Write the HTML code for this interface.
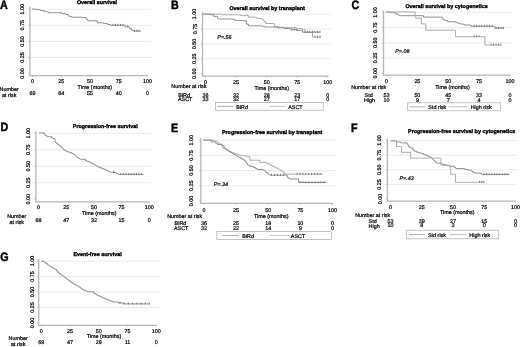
<!DOCTYPE html>
<html><head><meta charset="utf-8"><style>
html,body{margin:0;padding:0;background:#fff;}
svg{display:block;}
text{font-family:"Liberation Sans",sans-serif;text-rendering:geometricPrecision;stroke:#000;stroke-width:0.22px;}
text[font-weight="bold"]{stroke-width:0.35px;}
text.L{stroke-width:0.45px;fill:#000;}
</style></head><body>
<svg width="520" height="347" viewBox="0 0 520 347">
<rect width="520" height="347" fill="#fff"/>
<g style="filter:grayscale(1)">
<line x1="29.90" y1="9.20" x2="151.50" y2="9.20" stroke="#ebebeb" stroke-width="1"/>
<line x1="29.90" y1="25.30" x2="151.50" y2="25.30" stroke="#ebebeb" stroke-width="1"/>
<line x1="29.90" y1="41.40" x2="151.50" y2="41.40" stroke="#ebebeb" stroke-width="1"/>
<line x1="29.90" y1="57.50" x2="151.50" y2="57.50" stroke="#ebebeb" stroke-width="1"/>
<line x1="29.90" y1="6.80" x2="29.90" y2="76.20" stroke="#b5b5b5" stroke-width="1.3"/>
<line x1="29.30" y1="75.60" x2="148.10" y2="75.60" stroke="#b5b5b5" stroke-width="1.3"/>
<line x1="28.30" y1="9.20" x2="29.90" y2="9.20" stroke="#b5b5b5" stroke-width="0.8"/>
<line x1="28.30" y1="25.30" x2="29.90" y2="25.30" stroke="#b5b5b5" stroke-width="0.8"/>
<line x1="28.30" y1="41.40" x2="29.90" y2="41.40" stroke="#b5b5b5" stroke-width="0.8"/>
<line x1="28.30" y1="57.50" x2="29.90" y2="57.50" stroke="#b5b5b5" stroke-width="0.8"/>
<line x1="28.30" y1="73.60" x2="29.90" y2="73.60" stroke="#b5b5b5" stroke-width="0.8"/>
<line x1="32.60" y1="75.60" x2="32.60" y2="77.10" stroke="#b5b5b5" stroke-width="0.8"/>
<line x1="61.35" y1="75.60" x2="61.35" y2="77.10" stroke="#b5b5b5" stroke-width="0.8"/>
<line x1="90.10" y1="75.60" x2="90.10" y2="77.10" stroke="#b5b5b5" stroke-width="0.8"/>
<line x1="118.85" y1="75.60" x2="118.85" y2="77.10" stroke="#b5b5b5" stroke-width="0.8"/>
<line x1="147.60" y1="75.60" x2="147.60" y2="77.10" stroke="#b5b5b5" stroke-width="0.8"/>
<text x="24.20" y="9.20" font-size="5.4" text-anchor="middle" transform="rotate(-90 24.20 9.20)">1.00</text>
<text x="24.20" y="25.30" font-size="5.4" text-anchor="middle" transform="rotate(-90 24.20 25.30)">0.75</text>
<text x="24.20" y="41.40" font-size="5.4" text-anchor="middle" transform="rotate(-90 24.20 41.40)">0.50</text>
<text x="24.20" y="57.50" font-size="5.4" text-anchor="middle" transform="rotate(-90 24.20 57.50)">0.25</text>
<text x="24.20" y="73.60" font-size="5.4" text-anchor="middle" transform="rotate(-90 24.20 73.60)">0.00</text>
<text x="32.60" y="82.80" font-size="5.4" text-anchor="middle">0</text>
<text x="61.35" y="82.80" font-size="5.4" text-anchor="middle">25</text>
<text x="90.10" y="82.80" font-size="5.4" text-anchor="middle">50</text>
<text x="118.85" y="82.80" font-size="5.4" text-anchor="middle">75</text>
<text x="147.60" y="82.80" font-size="5.4" text-anchor="middle">100</text>
<text x="77.60" y="89.00" font-size="5.4">Time (months)</text>
<text x="76.90" y="4.35" font-size="5.4" font-weight="bold">Overall survival</text>
<text transform="translate(0.00 9.00) scale(0.88 1)" font-size="12.2" font-weight="bold" class="L">A</text>
<text x="9.20" y="90.80" font-size="5.4" text-anchor="middle">Number</text>
<text x="9.20" y="96.80" font-size="5.4" text-anchor="middle">at risk</text>
<text x="32.60" y="94.80" font-size="5.4" text-anchor="middle">69</text>
<text x="61.35" y="94.80" font-size="5.4" text-anchor="middle">64</text>
<text x="90.10" y="94.80" font-size="5.4" text-anchor="middle">55</text>
<text x="118.85" y="94.80" font-size="5.4" text-anchor="middle">40</text>
<text x="147.60" y="94.80" font-size="5.4" text-anchor="middle">0</text>
<polyline points="32.00,9.10 36.10,9.10 36.10,9.65 40.10,9.65 40.10,10.50 44.20,10.50 44.20,11.70 48.20,11.70 48.20,12.70 57.60,12.70 57.60,12.70 61.60,12.70 61.60,13.70 65.70,13.70 65.70,14.50 68.40,14.50 68.40,15.80 69.40,15.80 69.40,16.50 71.40,16.50 71.40,17.20 72.40,17.20 81.80,17.20 81.80,17.50 85.90,17.50 85.90,18.10 86.58,18.10 86.58,19.45 87.92,19.45 87.92,20.80 88.60,20.80 96.10,20.80 96.10,21.00 97.40,21.00 97.40,22.80 103.50,22.80 103.50,23.50 107.50,23.50 107.50,24.50 110.20,24.50 110.20,25.30 124.50,25.30 124.50,25.30 125.00,25.30 125.00,26.80 129.20,26.80 129.20,26.80 129.70,26.80 129.70,28.60 131.50,28.60 131.50,30.00 132.80,30.00 132.80,31.10 141.10,31.10 141.10,31.10" fill="none" stroke="#8f8f8f" stroke-width="1.0"/>
<line x1="113.00" y1="23.90" x2="113.00" y2="25.80" stroke="#707070" stroke-width="0.9"/>
<line x1="115.50" y1="23.90" x2="115.50" y2="25.80" stroke="#707070" stroke-width="0.9"/>
<line x1="118.00" y1="23.90" x2="118.00" y2="25.80" stroke="#707070" stroke-width="0.9"/>
<line x1="120.50" y1="23.90" x2="120.50" y2="25.80" stroke="#707070" stroke-width="0.9"/>
<line x1="123.00" y1="23.90" x2="123.00" y2="25.80" stroke="#707070" stroke-width="0.9"/>
<line x1="127.70" y1="25.40" x2="127.70" y2="27.30" stroke="#707070" stroke-width="0.9"/>
<line x1="134.50" y1="29.70" x2="134.50" y2="31.60" stroke="#707070" stroke-width="0.9"/>
<line x1="136.70" y1="29.70" x2="136.70" y2="31.60" stroke="#707070" stroke-width="0.9"/>
<line x1="138.90" y1="29.70" x2="138.90" y2="31.60" stroke="#707070" stroke-width="0.9"/>
<line x1="202.50" y1="14.10" x2="331.00" y2="14.10" stroke="#ebebeb" stroke-width="1"/>
<line x1="202.50" y1="29.00" x2="331.00" y2="29.00" stroke="#ebebeb" stroke-width="1"/>
<line x1="202.50" y1="43.90" x2="331.00" y2="43.90" stroke="#ebebeb" stroke-width="1"/>
<line x1="202.50" y1="58.80" x2="331.00" y2="58.80" stroke="#ebebeb" stroke-width="1"/>
<line x1="202.50" y1="12.00" x2="202.50" y2="76.80" stroke="#b5b5b5" stroke-width="1.3"/>
<line x1="201.90" y1="76.20" x2="328.30" y2="76.20" stroke="#b5b5b5" stroke-width="1.3"/>
<line x1="200.90" y1="14.10" x2="202.50" y2="14.10" stroke="#b5b5b5" stroke-width="0.8"/>
<line x1="200.90" y1="29.00" x2="202.50" y2="29.00" stroke="#b5b5b5" stroke-width="0.8"/>
<line x1="200.90" y1="43.90" x2="202.50" y2="43.90" stroke="#b5b5b5" stroke-width="0.8"/>
<line x1="200.90" y1="58.80" x2="202.50" y2="58.80" stroke="#b5b5b5" stroke-width="0.8"/>
<line x1="200.90" y1="73.70" x2="202.50" y2="73.70" stroke="#b5b5b5" stroke-width="0.8"/>
<line x1="205.50" y1="76.20" x2="205.50" y2="77.70" stroke="#b5b5b5" stroke-width="0.8"/>
<line x1="236.07" y1="76.20" x2="236.07" y2="77.70" stroke="#b5b5b5" stroke-width="0.8"/>
<line x1="266.65" y1="76.20" x2="266.65" y2="77.70" stroke="#b5b5b5" stroke-width="0.8"/>
<line x1="297.23" y1="76.20" x2="297.23" y2="77.70" stroke="#b5b5b5" stroke-width="0.8"/>
<line x1="327.80" y1="76.20" x2="327.80" y2="77.70" stroke="#b5b5b5" stroke-width="0.8"/>
<text x="196.50" y="14.10" font-size="5.4" text-anchor="middle" transform="rotate(-90 196.50 14.10)">1.00</text>
<text x="196.50" y="29.00" font-size="5.4" text-anchor="middle" transform="rotate(-90 196.50 29.00)">0.75</text>
<text x="196.50" y="43.90" font-size="5.4" text-anchor="middle" transform="rotate(-90 196.50 43.90)">0.50</text>
<text x="196.50" y="58.80" font-size="5.4" text-anchor="middle" transform="rotate(-90 196.50 58.80)">0.25</text>
<text x="196.50" y="73.70" font-size="5.4" text-anchor="middle" transform="rotate(-90 196.50 73.70)">0.00</text>
<text x="205.50" y="83.90" font-size="5.4" text-anchor="middle">0</text>
<text x="236.07" y="83.90" font-size="5.4" text-anchor="middle">25</text>
<text x="266.65" y="83.90" font-size="5.4" text-anchor="middle">50</text>
<text x="297.23" y="83.90" font-size="5.4" text-anchor="middle">75</text>
<text x="327.80" y="83.90" font-size="5.4" text-anchor="middle">100</text>
<text x="254.40" y="89.80" font-size="5.4">Time (months)</text>
<text x="229.40" y="9.90" font-size="5.4" font-weight="bold">Overall survival by transplant</text>
<text transform="translate(171.10 8.50) scale(0.88 1)" font-size="12.2" font-weight="bold" class="L">B</text>
<text x="171.30" y="88.20" font-size="5.4">Number at risk</text>
<text x="178.30" y="96.80" font-size="5.4">BiRd</text>
<text x="178.00" y="101.20" font-size="5.4">ASCT</text>
<text x="205.50" y="96.80" font-size="5.4" text-anchor="middle">36</text>
<text x="236.07" y="96.80" font-size="5.4" text-anchor="middle">32</text>
<text x="266.65" y="96.80" font-size="5.4" text-anchor="middle">28</text>
<text x="297.23" y="96.80" font-size="5.4" text-anchor="middle">23</text>
<text x="327.80" y="96.80" font-size="5.4" text-anchor="middle">0</text>
<text x="205.50" y="101.20" font-size="5.4" text-anchor="middle">33</text>
<text x="236.07" y="101.20" font-size="5.4" text-anchor="middle">32</text>
<text x="266.65" y="101.20" font-size="5.4" text-anchor="middle">27</text>
<text x="297.23" y="101.20" font-size="5.4" text-anchor="middle">17</text>
<text x="327.80" y="101.20" font-size="5.4" text-anchor="middle">0</text>
<text x="217.30" y="39.30" font-size="5.4" font-style="italic">P=.56</text>
<rect x="215.40" y="102.50" width="107.80" height="7.80" fill="none" stroke="#b5b5b5" stroke-width="0.8"/>
<line x1="217.40" y1="106.40" x2="232.90" y2="106.40" stroke="#b4b4b4" stroke-width="1.1"/>
<text x="236.30" y="108.50" font-size="5.4">BiRd</text>
<line x1="269.60" y1="106.40" x2="285.50" y2="106.40" stroke="#c4c4c4" stroke-width="1.1"/>
<text x="288.20" y="108.50" font-size="5.4">ASCT</text>
<polyline points="203.40,14.10 220.20,14.10 220.20,14.10 221.50,14.10 221.50,14.80 240.40,14.80 240.40,15.60 248.50,15.60 248.50,17.20 256.50,17.20 256.50,18.50 261.90,18.50 261.90,19.80 263.80,19.80 263.80,21.50 265.70,21.50 265.70,23.50 273.70,23.50 273.70,23.50 274.30,23.50 274.30,27.20 284.00,27.20 284.00,27.60 296.00,27.60 296.00,28.50 302.00,28.50 302.00,29.20 305.00,29.20 305.00,32.50 312.50,32.50 312.50,32.80 312.50,32.80 312.50,37.10 321.00,37.10 321.00,37.10" fill="none" stroke="#adadad" stroke-width="1.0"/>
<line x1="315.00" y1="35.70" x2="315.00" y2="37.60" stroke="#707070" stroke-width="0.9"/>
<line x1="317.50" y1="35.70" x2="317.50" y2="37.60" stroke="#707070" stroke-width="0.9"/>
<line x1="320.00" y1="35.70" x2="320.00" y2="37.60" stroke="#707070" stroke-width="0.9"/>
<polyline points="203.40,14.10 210.10,14.10 210.10,14.70 213.50,14.70 213.50,16.30 217.50,16.30 217.50,18.10 218.20,18.10 218.20,19.00 233.60,19.00 233.60,19.40 235.00,19.40 235.00,20.40 243.00,20.40 243.00,20.80 246.40,20.80 246.40,24.20 248.50,24.20 248.50,25.80 261.90,25.80 261.90,26.20 264.60,26.20 264.60,27.00 274.30,27.00 274.30,26.90 278.00,26.90 278.00,27.80 284.20,27.80 284.20,28.50 290.30,28.50 290.30,29.70 296.50,29.70 296.50,30.30 302.00,30.30 302.00,30.30 302.60,30.30 302.60,32.20 319.80,32.20 319.80,32.20" fill="none" stroke="#8f8f8f" stroke-width="1.0"/>
<line x1="292.00" y1="28.30" x2="292.00" y2="30.20" stroke="#707070" stroke-width="0.9"/>
<line x1="294.50" y1="28.30" x2="294.50" y2="30.20" stroke="#707070" stroke-width="0.9"/>
<line x1="297.00" y1="28.90" x2="297.00" y2="30.80" stroke="#707070" stroke-width="0.9"/>
<line x1="305.00" y1="30.80" x2="305.00" y2="32.70" stroke="#707070" stroke-width="0.9"/>
<line x1="307.50" y1="30.80" x2="307.50" y2="32.70" stroke="#707070" stroke-width="0.9"/>
<line x1="310.00" y1="30.80" x2="310.00" y2="32.70" stroke="#707070" stroke-width="0.9"/>
<line x1="312.50" y1="30.80" x2="312.50" y2="32.70" stroke="#707070" stroke-width="0.9"/>
<line x1="315.00" y1="30.80" x2="315.00" y2="32.70" stroke="#707070" stroke-width="0.9"/>
<line x1="317.50" y1="30.80" x2="317.50" y2="32.70" stroke="#707070" stroke-width="0.9"/>
<line x1="320.00" y1="30.80" x2="320.00" y2="32.70" stroke="#707070" stroke-width="0.9"/>
<line x1="383.50" y1="12.40" x2="512.00" y2="12.40" stroke="#ebebeb" stroke-width="1"/>
<line x1="383.50" y1="27.62" x2="512.00" y2="27.62" stroke="#ebebeb" stroke-width="1"/>
<line x1="383.50" y1="42.85" x2="512.00" y2="42.85" stroke="#ebebeb" stroke-width="1"/>
<line x1="383.50" y1="58.07" x2="512.00" y2="58.07" stroke="#ebebeb" stroke-width="1"/>
<line x1="383.50" y1="10.40" x2="383.50" y2="75.80" stroke="#b5b5b5" stroke-width="1.3"/>
<line x1="382.90" y1="75.20" x2="510.50" y2="75.20" stroke="#b5b5b5" stroke-width="1.3"/>
<line x1="381.90" y1="12.40" x2="383.50" y2="12.40" stroke="#b5b5b5" stroke-width="0.8"/>
<line x1="381.90" y1="27.62" x2="383.50" y2="27.62" stroke="#b5b5b5" stroke-width="0.8"/>
<line x1="381.90" y1="42.85" x2="383.50" y2="42.85" stroke="#b5b5b5" stroke-width="0.8"/>
<line x1="381.90" y1="58.07" x2="383.50" y2="58.07" stroke="#b5b5b5" stroke-width="0.8"/>
<line x1="381.90" y1="73.30" x2="383.50" y2="73.30" stroke="#b5b5b5" stroke-width="0.8"/>
<line x1="386.50" y1="75.20" x2="386.50" y2="76.70" stroke="#b5b5b5" stroke-width="0.8"/>
<line x1="417.38" y1="75.20" x2="417.38" y2="76.70" stroke="#b5b5b5" stroke-width="0.8"/>
<line x1="448.25" y1="75.20" x2="448.25" y2="76.70" stroke="#b5b5b5" stroke-width="0.8"/>
<line x1="479.12" y1="75.20" x2="479.12" y2="76.70" stroke="#b5b5b5" stroke-width="0.8"/>
<line x1="510.00" y1="75.20" x2="510.00" y2="76.70" stroke="#b5b5b5" stroke-width="0.8"/>
<text x="377.00" y="12.40" font-size="5.4" text-anchor="middle" transform="rotate(-90 377.00 12.40)">1.00</text>
<text x="377.00" y="27.62" font-size="5.4" text-anchor="middle" transform="rotate(-90 377.00 27.62)">0.75</text>
<text x="377.00" y="42.85" font-size="5.4" text-anchor="middle" transform="rotate(-90 377.00 42.85)">0.50</text>
<text x="377.00" y="58.07" font-size="5.4" text-anchor="middle" transform="rotate(-90 377.00 58.07)">0.25</text>
<text x="377.00" y="73.30" font-size="5.4" text-anchor="middle" transform="rotate(-90 377.00 73.30)">0.00</text>
<text x="386.50" y="83.20" font-size="5.4" text-anchor="middle">0</text>
<text x="417.38" y="83.20" font-size="5.4" text-anchor="middle">25</text>
<text x="448.25" y="83.20" font-size="5.4" text-anchor="middle">50</text>
<text x="479.12" y="83.20" font-size="5.4" text-anchor="middle">75</text>
<text x="510.00" y="83.20" font-size="5.4" text-anchor="middle">100</text>
<text x="435.20" y="89.40" font-size="5.4">Time (months)</text>
<text x="405.40" y="8.25" font-size="5.4" font-weight="bold">Overall survival by cytogenetics</text>
<text transform="translate(351.40 9.00) scale(0.88 1)" font-size="12.2" font-weight="bold" class="L">C</text>
<text x="351.20" y="89.30" font-size="5.4">Number at risk</text>
<text x="364.60" y="97.10" font-size="5.4">Std</text>
<text x="364.00" y="101.60" font-size="5.4">High</text>
<text x="386.50" y="97.10" font-size="5.4" text-anchor="middle">53</text>
<text x="417.38" y="97.10" font-size="5.4" text-anchor="middle">50</text>
<text x="448.25" y="97.10" font-size="5.4" text-anchor="middle">45</text>
<text x="479.12" y="97.10" font-size="5.4" text-anchor="middle">33</text>
<text x="510.00" y="97.10" font-size="5.4" text-anchor="middle">0</text>
<text x="386.50" y="101.60" font-size="5.4" text-anchor="middle">10</text>
<text x="417.38" y="101.60" font-size="5.4" text-anchor="middle">9</text>
<text x="448.25" y="101.60" font-size="5.4" text-anchor="middle">7</text>
<text x="479.12" y="101.60" font-size="5.4" text-anchor="middle">4</text>
<text x="510.00" y="101.60" font-size="5.4" text-anchor="middle">0</text>
<text x="395.20" y="52.90" font-size="5.4" font-style="italic">P=.08</text>
<rect x="407.70" y="102.80" width="92.70" height="8.00" fill="none" stroke="#b5b5b5" stroke-width="0.8"/>
<line x1="409.70" y1="106.80" x2="425.20" y2="106.80" stroke="#b4b4b4" stroke-width="1.1"/>
<text x="428.30" y="108.80" font-size="5.4">Std risk</text>
<line x1="448.50" y1="106.80" x2="467.60" y2="106.80" stroke="#c4c4c4" stroke-width="1.1"/>
<text x="470.70" y="108.80" font-size="5.4">High risk</text>
<polyline points="386.00,11.90 389.80,11.90 389.80,12.50 395.00,12.50 395.00,13.80 397.70,13.80 397.70,14.70 399.00,14.70 399.00,15.70 422.90,15.70 422.90,15.70 423.50,15.70 423.50,17.10 440.20,17.10 440.20,17.10 442.20,17.10 442.20,18.40 442.85,18.40 442.85,19.40 444.15,19.40 444.15,20.40 444.80,20.40 447.40,20.40 447.40,21.70 455.50,21.70 455.50,22.30 457.23,22.30 457.23,23.20 460.70,23.20 460.70,24.10 464.17,24.10 464.17,25.00 465.90,25.00 471.20,25.00 471.20,26.30 493.40,26.30 493.40,26.30 494.70,26.30 494.70,28.20 503.80,28.20 503.80,28.50" fill="none" stroke="#8f8f8f" stroke-width="1.0"/>
<line x1="474.00" y1="24.90" x2="474.00" y2="26.80" stroke="#707070" stroke-width="0.9"/>
<line x1="476.60" y1="24.90" x2="476.60" y2="26.80" stroke="#707070" stroke-width="0.9"/>
<line x1="479.20" y1="24.90" x2="479.20" y2="26.80" stroke="#707070" stroke-width="0.9"/>
<line x1="481.80" y1="24.90" x2="481.80" y2="26.80" stroke="#707070" stroke-width="0.9"/>
<line x1="484.40" y1="24.90" x2="484.40" y2="26.80" stroke="#707070" stroke-width="0.9"/>
<line x1="487.00" y1="24.90" x2="487.00" y2="26.80" stroke="#707070" stroke-width="0.9"/>
<line x1="489.60" y1="24.90" x2="489.60" y2="26.80" stroke="#707070" stroke-width="0.9"/>
<line x1="492.20" y1="24.90" x2="492.20" y2="26.80" stroke="#707070" stroke-width="0.9"/>
<line x1="496.00" y1="26.80" x2="496.00" y2="28.70" stroke="#707070" stroke-width="0.9"/>
<line x1="498.50" y1="26.80" x2="498.50" y2="28.70" stroke="#707070" stroke-width="0.9"/>
<line x1="501.00" y1="26.80" x2="501.00" y2="28.70" stroke="#707070" stroke-width="0.9"/>
<line x1="503.50" y1="26.80" x2="503.50" y2="28.70" stroke="#707070" stroke-width="0.9"/>
<polyline points="386.00,11.90 415.20,11.90 415.20,11.90 415.20,11.90 415.20,18.10 421.40,18.10 421.40,18.10 421.40,18.10 421.40,23.90 425.80,23.90 425.80,23.90 425.80,23.90 425.80,30.20 454.80,30.20 454.80,30.20 455.50,30.20 455.50,36.70 484.20,36.70 484.20,36.70 484.90,36.70 484.90,45.00 501.20,45.00 501.20,45.00" fill="none" stroke="#adadad" stroke-width="1.0"/>
<line x1="474.00" y1="35.30" x2="474.00" y2="37.20" stroke="#707070" stroke-width="0.9"/>
<line x1="476.50" y1="35.30" x2="476.50" y2="37.20" stroke="#707070" stroke-width="0.9"/>
<line x1="479.00" y1="35.30" x2="479.00" y2="37.20" stroke="#707070" stroke-width="0.9"/>
<line x1="491.00" y1="43.60" x2="491.00" y2="45.50" stroke="#707070" stroke-width="0.9"/>
<line x1="493.50" y1="43.60" x2="493.50" y2="45.50" stroke="#707070" stroke-width="0.9"/>
<line x1="496.00" y1="43.60" x2="496.00" y2="45.50" stroke="#707070" stroke-width="0.9"/>
<line x1="498.50" y1="43.60" x2="498.50" y2="45.50" stroke="#707070" stroke-width="0.9"/>
<line x1="501.00" y1="43.60" x2="501.00" y2="45.50" stroke="#707070" stroke-width="0.9"/>
<line x1="35.90" y1="133.30" x2="151.60" y2="133.30" stroke="#ebebeb" stroke-width="1"/>
<line x1="35.90" y1="149.80" x2="151.60" y2="149.80" stroke="#ebebeb" stroke-width="1"/>
<line x1="35.90" y1="166.30" x2="151.60" y2="166.30" stroke="#ebebeb" stroke-width="1"/>
<line x1="35.90" y1="182.80" x2="151.60" y2="182.80" stroke="#ebebeb" stroke-width="1"/>
<line x1="35.90" y1="131.20" x2="35.90" y2="202.40" stroke="#b5b5b5" stroke-width="1.3"/>
<line x1="35.30" y1="201.80" x2="149.70" y2="201.80" stroke="#b5b5b5" stroke-width="1.3"/>
<line x1="34.30" y1="133.30" x2="35.90" y2="133.30" stroke="#b5b5b5" stroke-width="0.8"/>
<line x1="34.30" y1="149.80" x2="35.90" y2="149.80" stroke="#b5b5b5" stroke-width="0.8"/>
<line x1="34.30" y1="166.30" x2="35.90" y2="166.30" stroke="#b5b5b5" stroke-width="0.8"/>
<line x1="34.30" y1="182.80" x2="35.90" y2="182.80" stroke="#b5b5b5" stroke-width="0.8"/>
<line x1="34.30" y1="199.30" x2="35.90" y2="199.30" stroke="#b5b5b5" stroke-width="0.8"/>
<line x1="38.60" y1="201.80" x2="38.60" y2="203.30" stroke="#b5b5b5" stroke-width="0.8"/>
<line x1="66.25" y1="201.80" x2="66.25" y2="203.30" stroke="#b5b5b5" stroke-width="0.8"/>
<line x1="93.90" y1="201.80" x2="93.90" y2="203.30" stroke="#b5b5b5" stroke-width="0.8"/>
<line x1="121.55" y1="201.80" x2="121.55" y2="203.30" stroke="#b5b5b5" stroke-width="0.8"/>
<line x1="149.20" y1="201.80" x2="149.20" y2="203.30" stroke="#b5b5b5" stroke-width="0.8"/>
<text x="30.30" y="133.30" font-size="5.4" text-anchor="middle" transform="rotate(-90 30.30 133.30)">1.00</text>
<text x="30.30" y="149.80" font-size="5.4" text-anchor="middle" transform="rotate(-90 30.30 149.80)">0.75</text>
<text x="30.30" y="166.30" font-size="5.4" text-anchor="middle" transform="rotate(-90 30.30 166.30)">0.50</text>
<text x="30.30" y="182.80" font-size="5.4" text-anchor="middle" transform="rotate(-90 30.30 182.80)">0.25</text>
<text x="30.30" y="199.30" font-size="5.4" text-anchor="middle" transform="rotate(-90 30.30 199.30)">0.00</text>
<text x="38.60" y="209.00" font-size="5.4" text-anchor="middle">0</text>
<text x="66.25" y="209.00" font-size="5.4" text-anchor="middle">25</text>
<text x="93.90" y="209.00" font-size="5.4" text-anchor="middle">50</text>
<text x="121.55" y="209.00" font-size="5.4" text-anchor="middle">75</text>
<text x="149.20" y="209.00" font-size="5.4" text-anchor="middle">100</text>
<text x="82.00" y="215.20" font-size="5.4">Time (months)</text>
<text x="72.80" y="127.90" font-size="5.4" font-weight="bold">Progression-free survival</text>
<text transform="translate(0.60 130.80) scale(0.88 1)" font-size="12.2" font-weight="bold" class="L">D</text>
<text x="16.80" y="218.20" font-size="5.4" text-anchor="middle">Number</text>
<text x="16.80" y="224.00" font-size="5.4" text-anchor="middle">at risk</text>
<text x="38.60" y="222.00" font-size="5.4" text-anchor="middle">68</text>
<text x="66.25" y="222.00" font-size="5.4" text-anchor="middle">47</text>
<text x="93.90" y="222.00" font-size="5.4" text-anchor="middle">32</text>
<text x="121.55" y="222.00" font-size="5.4" text-anchor="middle">15</text>
<text x="149.20" y="222.00" font-size="5.4" text-anchor="middle">0</text>
<polyline points="39.25,132.90 41.75,132.90 41.75,132.90 44.25,132.90 44.25,134.25 44.88,134.25 44.88,135.08 46.12,135.08 46.12,135.92 47.38,135.92 47.38,136.75 48.00,136.75 51.75,136.75 51.75,138.00 53.00,138.00 53.00,138.50 55.00,138.50 55.00,141.75 55.50,141.75 55.50,142.58 56.50,142.58 56.50,143.42 57.50,143.42 57.50,144.25 58.00,144.25 58.62,144.25 58.62,145.12 59.88,145.12 59.88,146.00 60.50,146.00 60.97,146.00 60.97,147.00 61.91,147.00 61.91,148.00 62.84,148.00 62.84,149.00 63.78,149.00 63.78,150.00 64.25,150.00 65.19,150.00 65.19,150.88 67.06,150.88 67.06,151.75 68.00,151.75 69.25,151.75 69.25,152.62 71.75,152.62 71.75,153.50 73.00,153.50 73.47,153.50 73.47,154.31 74.41,154.31 74.41,155.12 75.34,155.12 75.34,155.94 76.28,155.94 76.28,156.75 76.75,156.75 77.38,156.75 77.38,157.58 78.62,157.58 78.62,158.42 79.88,158.42 79.88,159.25 80.50,159.25 85.50,159.25 85.50,160.50 86.75,160.50 86.75,161.38 89.25,161.38 89.25,162.25 90.50,162.25 91.44,162.25 91.44,163.25 93.31,163.25 93.31,164.25 94.25,164.25 94.88,164.25 94.88,165.08 96.12,165.08 96.12,165.92 97.38,165.92 97.38,166.75 98.00,166.75 99.25,166.75 99.25,167.75 101.75,167.75 101.75,168.75 103.00,168.75 104.25,168.75 104.25,169.88 106.75,169.88 106.75,171.00 108.00,171.00 108.94,171.00 108.94,171.75 110.81,171.75 110.81,172.50 111.75,172.50 115.50,172.50 115.50,173.00 116.44,173.00 116.44,173.70 118.31,173.70 118.31,174.40 119.25,174.40 143.50,174.40 143.50,174.40" fill="none" stroke="#8f8f8f" stroke-width="1.0"/>
<line x1="113.50" y1="171.10" x2="113.50" y2="173.00" stroke="#707070" stroke-width="0.9"/>
<line x1="120.80" y1="173.00" x2="120.80" y2="174.90" stroke="#707070" stroke-width="0.9"/>
<line x1="123.40" y1="173.00" x2="123.40" y2="174.90" stroke="#707070" stroke-width="0.9"/>
<line x1="126.00" y1="173.00" x2="126.00" y2="174.90" stroke="#707070" stroke-width="0.9"/>
<line x1="128.60" y1="173.00" x2="128.60" y2="174.90" stroke="#707070" stroke-width="0.9"/>
<line x1="131.20" y1="173.00" x2="131.20" y2="174.90" stroke="#707070" stroke-width="0.9"/>
<line x1="133.80" y1="173.00" x2="133.80" y2="174.90" stroke="#707070" stroke-width="0.9"/>
<line x1="136.40" y1="173.00" x2="136.40" y2="174.90" stroke="#707070" stroke-width="0.9"/>
<line x1="139.00" y1="173.00" x2="139.00" y2="174.90" stroke="#707070" stroke-width="0.9"/>
<line x1="141.60" y1="173.00" x2="141.60" y2="174.90" stroke="#707070" stroke-width="0.9"/>
<line x1="200.80" y1="140.20" x2="335.50" y2="140.20" stroke="#ebebeb" stroke-width="1"/>
<line x1="200.80" y1="155.40" x2="335.50" y2="155.40" stroke="#ebebeb" stroke-width="1"/>
<line x1="200.80" y1="170.60" x2="335.50" y2="170.60" stroke="#ebebeb" stroke-width="1"/>
<line x1="200.80" y1="185.80" x2="335.50" y2="185.80" stroke="#ebebeb" stroke-width="1"/>
<line x1="200.80" y1="138.20" x2="200.80" y2="204.00" stroke="#b5b5b5" stroke-width="1.3"/>
<line x1="200.20" y1="203.40" x2="333.00" y2="203.40" stroke="#b5b5b5" stroke-width="1.3"/>
<line x1="199.20" y1="140.20" x2="200.80" y2="140.20" stroke="#b5b5b5" stroke-width="0.8"/>
<line x1="199.20" y1="155.40" x2="200.80" y2="155.40" stroke="#b5b5b5" stroke-width="0.8"/>
<line x1="199.20" y1="170.60" x2="200.80" y2="170.60" stroke="#b5b5b5" stroke-width="0.8"/>
<line x1="199.20" y1="185.80" x2="200.80" y2="185.80" stroke="#b5b5b5" stroke-width="0.8"/>
<line x1="199.20" y1="201.00" x2="200.80" y2="201.00" stroke="#b5b5b5" stroke-width="0.8"/>
<line x1="204.00" y1="203.40" x2="204.00" y2="204.90" stroke="#b5b5b5" stroke-width="0.8"/>
<line x1="236.12" y1="203.40" x2="236.12" y2="204.90" stroke="#b5b5b5" stroke-width="0.8"/>
<line x1="268.25" y1="203.40" x2="268.25" y2="204.90" stroke="#b5b5b5" stroke-width="0.8"/>
<line x1="300.38" y1="203.40" x2="300.38" y2="204.90" stroke="#b5b5b5" stroke-width="0.8"/>
<line x1="332.50" y1="203.40" x2="332.50" y2="204.90" stroke="#b5b5b5" stroke-width="0.8"/>
<text x="193.00" y="140.20" font-size="5.4" text-anchor="middle" transform="rotate(-90 193.00 140.20)">1.00</text>
<text x="193.00" y="155.40" font-size="5.4" text-anchor="middle" transform="rotate(-90 193.00 155.40)">0.75</text>
<text x="193.00" y="170.60" font-size="5.4" text-anchor="middle" transform="rotate(-90 193.00 170.60)">0.50</text>
<text x="193.00" y="185.80" font-size="5.4" text-anchor="middle" transform="rotate(-90 193.00 185.80)">0.25</text>
<text x="193.00" y="201.00" font-size="5.4" text-anchor="middle" transform="rotate(-90 193.00 201.00)">0.00</text>
<text x="204.00" y="211.70" font-size="5.4" text-anchor="middle">0</text>
<text x="236.12" y="211.70" font-size="5.4" text-anchor="middle">25</text>
<text x="268.25" y="211.70" font-size="5.4" text-anchor="middle">50</text>
<text x="300.38" y="211.70" font-size="5.4" text-anchor="middle">75</text>
<text x="332.50" y="211.70" font-size="5.4" text-anchor="middle">100</text>
<text x="254.00" y="218.30" font-size="5.4">Time (months)</text>
<text x="221.90" y="133.80" font-size="5.4" font-weight="bold">Progression-free survival by transplant</text>
<text transform="translate(171.10 131.70) scale(0.88 1)" font-size="12.2" font-weight="bold" class="L">E</text>
<text x="167.20" y="217.80" font-size="5.4">Number at risk</text>
<text x="174.60" y="225.30" font-size="5.4">BiRd</text>
<text x="174.00" y="230.10" font-size="5.4">ASCT</text>
<text x="204.00" y="225.30" font-size="5.4" text-anchor="middle">36</text>
<text x="236.12" y="225.30" font-size="5.4" text-anchor="middle">25</text>
<text x="268.25" y="225.30" font-size="5.4" text-anchor="middle">18</text>
<text x="300.38" y="225.30" font-size="5.4" text-anchor="middle">10</text>
<text x="332.50" y="225.30" font-size="5.4" text-anchor="middle">0</text>
<text x="204.00" y="230.10" font-size="5.4" text-anchor="middle">32</text>
<text x="236.12" y="230.10" font-size="5.4" text-anchor="middle">22</text>
<text x="268.25" y="230.10" font-size="5.4" text-anchor="middle">14</text>
<text x="300.38" y="230.10" font-size="5.4" text-anchor="middle">9</text>
<text x="332.50" y="230.10" font-size="5.4" text-anchor="middle">0</text>
<text x="213.70" y="185.50" font-size="5.4" font-style="italic">P=.34</text>
<rect x="216.80" y="231.60" width="114.70" height="7.80" fill="none" stroke="#b5b5b5" stroke-width="0.8"/>
<line x1="222.40" y1="235.50" x2="238.90" y2="235.50" stroke="#b4b4b4" stroke-width="1.1"/>
<text x="242.30" y="237.50" font-size="5.4">BiRd</text>
<line x1="270.00" y1="235.50" x2="290.00" y2="235.50" stroke="#c4c4c4" stroke-width="1.1"/>
<text x="290.80" y="237.50" font-size="5.4">ASCT</text>
<polyline points="203.30,140.10 211.90,140.10 211.90,140.10 213.70,140.10 213.70,141.00 217.10,141.00 217.10,141.80 217.75,141.80 217.75,142.70 219.05,142.70 219.05,143.60 219.70,143.60 220.35,143.60 220.35,144.45 221.65,144.45 221.65,145.30 222.30,145.30 224.00,145.30 224.00,147.90 224.58,147.90 224.58,148.77 225.75,148.77 225.75,149.63 226.92,149.63 226.92,150.50 227.50,150.50 228.38,150.50 228.38,151.35 230.12,151.35 230.12,152.20 231.00,152.20 232.30,152.20 232.30,153.05 234.90,153.05 234.90,153.90 236.20,153.90 237.47,153.90 237.47,154.80 240.03,154.80 240.03,155.70 241.30,155.70 246.50,155.70 246.50,156.50 249.50,156.50 249.50,157.00 249.90,157.00 249.90,160.20 259.00,160.20 259.00,160.60 259.80,160.60 259.80,162.40 265.00,162.40 265.00,162.10 266.00,162.10 266.00,163.10 268.00,163.10 268.00,164.10 269.00,164.10 270.00,164.10 270.00,165.15 272.00,165.15 272.00,166.20 273.00,166.20 273.92,166.20 273.92,167.07 275.75,167.07 275.75,167.93 277.58,167.93 277.58,168.80 278.50,168.80 279.17,168.80 279.17,169.70 280.50,169.70 280.50,170.60 281.83,170.60 281.83,171.50 282.50,171.50 283.07,171.50 283.07,172.40 284.20,172.40 284.20,173.30 285.33,173.30 285.33,174.20 285.90,174.20 323.50,174.20 323.50,174.20" fill="none" stroke="#adadad" stroke-width="1.0"/>
<line x1="297.00" y1="172.80" x2="297.00" y2="174.70" stroke="#707070" stroke-width="0.9"/>
<line x1="299.90" y1="172.80" x2="299.90" y2="174.70" stroke="#707070" stroke-width="0.9"/>
<line x1="302.80" y1="172.80" x2="302.80" y2="174.70" stroke="#707070" stroke-width="0.9"/>
<line x1="305.70" y1="172.80" x2="305.70" y2="174.70" stroke="#707070" stroke-width="0.9"/>
<line x1="308.60" y1="172.80" x2="308.60" y2="174.70" stroke="#707070" stroke-width="0.9"/>
<line x1="311.50" y1="172.80" x2="311.50" y2="174.70" stroke="#707070" stroke-width="0.9"/>
<line x1="314.40" y1="172.80" x2="314.40" y2="174.70" stroke="#707070" stroke-width="0.9"/>
<line x1="317.30" y1="172.80" x2="317.30" y2="174.70" stroke="#707070" stroke-width="0.9"/>
<line x1="320.20" y1="172.80" x2="320.20" y2="174.70" stroke="#707070" stroke-width="0.9"/>
<polyline points="203.30,140.10 210.20,140.10 210.20,140.10 211.10,140.10 211.10,141.80 215.40,141.80 215.40,142.70 216.05,142.70 216.05,143.55 217.35,143.55 217.35,144.40 218.00,144.40 221.40,144.40 221.40,144.80 222.30,144.80 222.30,147.00 223.18,147.00 223.18,147.85 224.93,147.85 224.93,148.70 225.80,148.70 226.37,148.70 226.37,149.57 227.50,149.57 227.50,150.43 228.63,150.43 228.63,151.30 229.20,151.30 230.07,151.30 230.07,152.20 231.82,152.20 231.82,153.10 232.70,153.10 233.28,153.10 233.28,153.97 234.45,153.97 234.45,154.83 235.62,154.83 235.62,155.70 236.20,155.70 237.05,155.70 237.05,156.55 238.75,156.55 238.75,157.40 239.60,157.40 240.47,157.40 240.47,158.37 242.20,158.37 242.20,159.33 243.93,159.33 243.93,160.30 244.80,160.30 245.38,160.30 245.38,161.93 246.55,161.93 246.55,163.57 247.72,163.57 247.72,165.20 248.30,165.20 249.90,165.20 249.90,166.30 253.10,166.30 253.10,167.40 254.70,167.40 255.43,167.40 255.43,168.50 256.88,168.50 256.88,169.60 257.60,169.60 263.40,169.60 263.40,170.30 265.00,170.30 265.00,171.30 265.68,171.30 265.68,172.28 267.02,172.28 267.02,173.25 268.38,173.25 268.38,174.22 269.72,174.22 269.72,175.20 270.40,175.20 285.20,175.20 285.20,175.20 287.20,175.20 287.20,176.90 288.05,176.90 288.05,177.90 289.75,177.90 289.75,178.90 290.60,178.90 297.30,178.90 297.30,178.90 298.60,178.90 298.60,182.50 326.20,182.50 326.20,182.50" fill="none" stroke="#8f8f8f" stroke-width="1.0"/>
<line x1="271.50" y1="173.80" x2="271.50" y2="175.70" stroke="#707070" stroke-width="0.9"/>
<line x1="274.50" y1="173.80" x2="274.50" y2="175.70" stroke="#707070" stroke-width="0.9"/>
<line x1="277.50" y1="173.80" x2="277.50" y2="175.70" stroke="#707070" stroke-width="0.9"/>
<line x1="280.50" y1="173.80" x2="280.50" y2="175.70" stroke="#707070" stroke-width="0.9"/>
<line x1="283.50" y1="173.80" x2="283.50" y2="175.70" stroke="#707070" stroke-width="0.9"/>
<line x1="300.00" y1="181.10" x2="300.00" y2="183.00" stroke="#707070" stroke-width="0.9"/>
<line x1="303.00" y1="181.10" x2="303.00" y2="183.00" stroke="#707070" stroke-width="0.9"/>
<line x1="306.00" y1="181.10" x2="306.00" y2="183.00" stroke="#707070" stroke-width="0.9"/>
<line x1="309.00" y1="181.10" x2="309.00" y2="183.00" stroke="#707070" stroke-width="0.9"/>
<line x1="312.00" y1="181.10" x2="312.00" y2="183.00" stroke="#707070" stroke-width="0.9"/>
<line x1="315.00" y1="181.10" x2="315.00" y2="183.00" stroke="#707070" stroke-width="0.9"/>
<line x1="318.00" y1="181.10" x2="318.00" y2="183.00" stroke="#707070" stroke-width="0.9"/>
<line x1="321.00" y1="181.10" x2="321.00" y2="183.00" stroke="#707070" stroke-width="0.9"/>
<line x1="324.00" y1="181.10" x2="324.00" y2="183.00" stroke="#707070" stroke-width="0.9"/>
<line x1="387.40" y1="140.60" x2="517.00" y2="140.60" stroke="#ebebeb" stroke-width="1"/>
<line x1="387.40" y1="155.20" x2="517.00" y2="155.20" stroke="#ebebeb" stroke-width="1"/>
<line x1="387.40" y1="169.80" x2="517.00" y2="169.80" stroke="#ebebeb" stroke-width="1"/>
<line x1="387.40" y1="184.40" x2="517.00" y2="184.40" stroke="#ebebeb" stroke-width="1"/>
<line x1="387.40" y1="138.20" x2="387.40" y2="201.80" stroke="#b5b5b5" stroke-width="1.3"/>
<line x1="386.80" y1="201.20" x2="515.90" y2="201.20" stroke="#b5b5b5" stroke-width="1.3"/>
<line x1="385.80" y1="140.60" x2="387.40" y2="140.60" stroke="#b5b5b5" stroke-width="0.8"/>
<line x1="385.80" y1="155.20" x2="387.40" y2="155.20" stroke="#b5b5b5" stroke-width="0.8"/>
<line x1="385.80" y1="169.80" x2="387.40" y2="169.80" stroke="#b5b5b5" stroke-width="0.8"/>
<line x1="385.80" y1="184.40" x2="387.40" y2="184.40" stroke="#b5b5b5" stroke-width="0.8"/>
<line x1="385.80" y1="199.00" x2="387.40" y2="199.00" stroke="#b5b5b5" stroke-width="0.8"/>
<line x1="390.50" y1="201.20" x2="390.50" y2="202.70" stroke="#b5b5b5" stroke-width="0.8"/>
<line x1="421.73" y1="201.20" x2="421.73" y2="202.70" stroke="#b5b5b5" stroke-width="0.8"/>
<line x1="452.95" y1="201.20" x2="452.95" y2="202.70" stroke="#b5b5b5" stroke-width="0.8"/>
<line x1="484.17" y1="201.20" x2="484.17" y2="202.70" stroke="#b5b5b5" stroke-width="0.8"/>
<line x1="515.40" y1="201.20" x2="515.40" y2="202.70" stroke="#b5b5b5" stroke-width="0.8"/>
<text x="381.50" y="140.60" font-size="5.4" text-anchor="middle" transform="rotate(-90 381.50 140.60)">1.00</text>
<text x="381.50" y="155.20" font-size="5.4" text-anchor="middle" transform="rotate(-90 381.50 155.20)">0.75</text>
<text x="381.50" y="169.80" font-size="5.4" text-anchor="middle" transform="rotate(-90 381.50 169.80)">0.50</text>
<text x="381.50" y="184.40" font-size="5.4" text-anchor="middle" transform="rotate(-90 381.50 184.40)">0.25</text>
<text x="381.50" y="199.00" font-size="5.4" text-anchor="middle" transform="rotate(-90 381.50 199.00)">0.00</text>
<text x="390.50" y="209.00" font-size="5.4" text-anchor="middle">0</text>
<text x="421.73" y="209.00" font-size="5.4" text-anchor="middle">25</text>
<text x="452.95" y="209.00" font-size="5.4" text-anchor="middle">50</text>
<text x="484.17" y="209.00" font-size="5.4" text-anchor="middle">75</text>
<text x="515.40" y="209.00" font-size="5.4" text-anchor="middle">100</text>
<text x="440.00" y="214.00" font-size="5.4">Time (months)</text>
<text x="408.10" y="133.20" font-size="5.4" font-weight="bold">Progression-free survival by cytogenetics</text>
<text transform="translate(351.00 131.70) scale(0.88 1)" font-size="12.2" font-weight="bold" class="L">F</text>
<text x="355.20" y="216.70" font-size="5.4">Number at risk</text>
<text x="368.60" y="222.80" font-size="5.4">Std</text>
<text x="368.60" y="227.60" font-size="5.4">High</text>
<text x="390.50" y="222.80" font-size="5.4" text-anchor="middle">53</text>
<text x="421.73" y="222.80" font-size="5.4" text-anchor="middle">39</text>
<text x="452.95" y="222.80" font-size="5.4" text-anchor="middle">27</text>
<text x="484.17" y="222.80" font-size="5.4" text-anchor="middle">15</text>
<text x="515.40" y="222.80" font-size="5.4" text-anchor="middle">0</text>
<text x="390.50" y="227.30" font-size="5.4" text-anchor="middle">10</text>
<text x="421.73" y="227.30" font-size="5.4" text-anchor="middle">8</text>
<text x="452.95" y="227.30" font-size="5.4" text-anchor="middle">3</text>
<text x="484.17" y="227.30" font-size="5.4" text-anchor="middle">0</text>
<text x="515.40" y="227.30" font-size="5.4" text-anchor="middle">0</text>
<text x="399.50" y="180.40" font-size="5.4" font-style="italic">P=.43</text>
<rect x="406.60" y="230.20" width="91.80" height="8.60" fill="none" stroke="#b5b5b5" stroke-width="0.8"/>
<line x1="409.00" y1="234.50" x2="425.00" y2="234.50" stroke="#b4b4b4" stroke-width="1.1"/>
<text x="428.00" y="236.90" font-size="5.4">Std risk</text>
<line x1="450.00" y1="234.50" x2="466.30" y2="234.50" stroke="#c4c4c4" stroke-width="1.1"/>
<text x="469.30" y="236.90" font-size="5.4">High risk</text>
<polyline points="390.80,140.80 395.80,140.80 395.80,140.80 396.50,140.80 396.50,141.90 400.80,141.90 400.80,142.90 406.60,142.90 406.60,143.90 408.00,143.90 408.00,145.80 408.73,145.80 408.73,146.90 410.17,146.90 410.17,148.00 410.90,148.00 413.10,148.00 413.10,150.10 414.35,150.10 414.35,151.20 416.85,151.20 416.85,152.30 418.10,152.30 419.20,152.30 419.20,153.00 421.40,153.00 421.40,153.70 422.50,153.70 423.93,153.70 423.93,154.80 426.77,154.80 426.77,155.90 428.20,155.90 428.93,155.90 428.93,156.60 430.38,156.60 430.38,157.30 431.10,157.30 431.58,157.30 431.58,158.27 432.55,158.27 432.55,159.23 433.52,159.23 433.52,160.20 434.00,160.20 434.48,160.20 434.48,161.17 435.45,161.17 435.45,162.13 436.42,162.13 436.42,163.10 436.90,163.10 441.20,163.10 441.20,163.80 442.65,163.80 442.65,164.55 445.55,164.55 445.55,165.30 447.00,165.30 449.00,165.30 449.00,166.20 454.40,166.20 454.40,167.50 455.80,167.50 455.80,168.60 463.80,168.60 463.80,168.80 465.15,168.80 465.15,169.50 467.85,169.50 467.85,170.20 469.20,170.20 471.90,170.20 471.90,171.50 472.92,171.50 472.92,172.30 474.98,172.30 474.98,173.10 476.00,173.10 480.00,173.10 480.00,173.10 480.68,173.10 480.68,173.85 482.02,173.85 482.02,174.60 482.70,174.60 509.60,174.60 509.60,174.60" fill="none" stroke="#8f8f8f" stroke-width="1.0"/>
<line x1="484.00" y1="173.20" x2="484.00" y2="175.10" stroke="#707070" stroke-width="0.9"/>
<line x1="486.60" y1="173.20" x2="486.60" y2="175.10" stroke="#707070" stroke-width="0.9"/>
<line x1="489.20" y1="173.20" x2="489.20" y2="175.10" stroke="#707070" stroke-width="0.9"/>
<line x1="491.80" y1="173.20" x2="491.80" y2="175.10" stroke="#707070" stroke-width="0.9"/>
<line x1="494.40" y1="173.20" x2="494.40" y2="175.10" stroke="#707070" stroke-width="0.9"/>
<line x1="497.00" y1="173.20" x2="497.00" y2="175.10" stroke="#707070" stroke-width="0.9"/>
<line x1="499.60" y1="173.20" x2="499.60" y2="175.10" stroke="#707070" stroke-width="0.9"/>
<line x1="502.20" y1="173.20" x2="502.20" y2="175.10" stroke="#707070" stroke-width="0.9"/>
<line x1="504.80" y1="173.20" x2="504.80" y2="175.10" stroke="#707070" stroke-width="0.9"/>
<line x1="507.40" y1="173.20" x2="507.40" y2="175.10" stroke="#707070" stroke-width="0.9"/>
<polyline points="390.80,140.80 396.50,140.80 396.50,140.80 396.50,140.80 396.50,146.50 400.80,146.50 400.80,146.50 401.60,146.50 401.60,152.30 410.20,152.30 410.20,152.30 410.60,152.30 410.60,158.10 440.50,158.10 440.50,158.10 440.90,158.10 440.90,165.30 450.60,165.30 450.60,166.00 450.70,166.00 450.70,174.20 455.10,174.20 455.10,174.20 455.50,174.20 455.50,182.30 484.00,182.30 484.00,182.30" fill="none" stroke="#adadad" stroke-width="1.0"/>
<line x1="479.50" y1="180.90" x2="479.50" y2="182.80" stroke="#707070" stroke-width="0.9"/>
<line x1="481.70" y1="180.90" x2="481.70" y2="182.80" stroke="#707070" stroke-width="0.9"/>
<line x1="483.90" y1="180.90" x2="483.90" y2="182.80" stroke="#707070" stroke-width="0.9"/>
<line x1="38.70" y1="261.10" x2="159.50" y2="261.10" stroke="#ebebeb" stroke-width="1"/>
<line x1="38.70" y1="276.60" x2="159.50" y2="276.60" stroke="#ebebeb" stroke-width="1"/>
<line x1="38.70" y1="292.10" x2="159.50" y2="292.10" stroke="#ebebeb" stroke-width="1"/>
<line x1="38.70" y1="307.60" x2="159.50" y2="307.60" stroke="#ebebeb" stroke-width="1"/>
<line x1="38.70" y1="259.20" x2="38.70" y2="325.90" stroke="#b5b5b5" stroke-width="1.3"/>
<line x1="38.10" y1="325.30" x2="156.80" y2="325.30" stroke="#b5b5b5" stroke-width="1.3"/>
<line x1="37.10" y1="261.10" x2="38.70" y2="261.10" stroke="#b5b5b5" stroke-width="0.8"/>
<line x1="37.10" y1="276.60" x2="38.70" y2="276.60" stroke="#b5b5b5" stroke-width="0.8"/>
<line x1="37.10" y1="292.10" x2="38.70" y2="292.10" stroke="#b5b5b5" stroke-width="0.8"/>
<line x1="37.10" y1="307.60" x2="38.70" y2="307.60" stroke="#b5b5b5" stroke-width="0.8"/>
<line x1="37.10" y1="323.10" x2="38.70" y2="323.10" stroke="#b5b5b5" stroke-width="0.8"/>
<line x1="41.30" y1="325.30" x2="41.30" y2="326.80" stroke="#b5b5b5" stroke-width="0.8"/>
<line x1="70.05" y1="325.30" x2="70.05" y2="326.80" stroke="#b5b5b5" stroke-width="0.8"/>
<line x1="98.80" y1="325.30" x2="98.80" y2="326.80" stroke="#b5b5b5" stroke-width="0.8"/>
<line x1="127.55" y1="325.30" x2="127.55" y2="326.80" stroke="#b5b5b5" stroke-width="0.8"/>
<line x1="156.30" y1="325.30" x2="156.30" y2="326.80" stroke="#b5b5b5" stroke-width="0.8"/>
<text x="34.40" y="261.10" font-size="5.4" text-anchor="middle" transform="rotate(-90 34.40 261.10)">1.00</text>
<text x="34.40" y="276.60" font-size="5.4" text-anchor="middle" transform="rotate(-90 34.40 276.60)">0.75</text>
<text x="34.40" y="292.10" font-size="5.4" text-anchor="middle" transform="rotate(-90 34.40 292.10)">0.50</text>
<text x="34.40" y="307.60" font-size="5.4" text-anchor="middle" transform="rotate(-90 34.40 307.60)">0.25</text>
<text x="34.40" y="323.10" font-size="5.4" text-anchor="middle" transform="rotate(-90 34.40 323.10)">0.00</text>
<text x="41.30" y="333.00" font-size="5.4" text-anchor="middle">0</text>
<text x="70.05" y="333.00" font-size="5.4" text-anchor="middle">25</text>
<text x="98.80" y="333.00" font-size="5.4" text-anchor="middle">50</text>
<text x="127.55" y="333.00" font-size="5.4" text-anchor="middle">75</text>
<text x="156.30" y="333.00" font-size="5.4" text-anchor="middle">100</text>
<text x="86.80" y="338.40" font-size="5.4">Time (months)</text>
<text x="73.40" y="256.00" font-size="5.4" font-weight="bold">Event-free survival</text>
<text transform="translate(0.30 260.80) scale(0.88 1)" font-size="12.2" font-weight="bold" class="L">G</text>
<text x="18.20" y="340.00" font-size="5.4" text-anchor="middle">Number</text>
<text x="18.20" y="346.30" font-size="5.4" text-anchor="middle">at risk</text>
<text x="41.30" y="343.80" font-size="5.4" text-anchor="middle">69</text>
<text x="70.05" y="343.80" font-size="5.4" text-anchor="middle">47</text>
<text x="98.80" y="343.80" font-size="5.4" text-anchor="middle">29</text>
<text x="127.55" y="343.80" font-size="5.4" text-anchor="middle">11</text>
<text x="156.30" y="343.80" font-size="5.4" text-anchor="middle">0</text>
<polyline points="41.30,261.25 43.50,261.25 43.50,261.25 44.12,261.25 44.12,262.19 45.38,262.19 45.38,263.12 46.62,263.12 46.62,264.06 47.88,264.06 47.88,265.00 48.50,265.00 49.33,265.00 49.33,266.00 51.00,266.00 51.00,267.00 52.67,267.00 52.67,268.00 53.50,268.00 54.12,268.00 54.12,268.75 55.38,268.75 55.38,269.50 56.00,269.50 56.62,269.50 56.62,271.00 57.88,271.00 57.88,272.50 58.50,272.50 59.12,272.50 59.12,273.44 60.38,273.44 60.38,274.38 61.62,274.38 61.62,275.31 62.88,275.31 62.88,276.25 63.50,276.25 64.12,276.25 64.12,277.19 65.38,277.19 65.38,278.12 66.62,278.12 66.62,279.06 67.88,279.06 67.88,280.00 68.50,280.00 69.12,280.00 69.12,280.94 70.38,280.94 70.38,281.88 71.62,281.88 71.62,282.81 72.88,282.81 72.88,283.75 73.50,283.75 74.33,283.75 74.33,284.58 76.00,284.58 76.00,285.42 77.67,285.42 77.67,286.25 78.50,286.25 79.12,286.25 79.12,287.19 80.38,287.19 80.38,288.12 81.62,288.12 81.62,289.06 82.88,289.06 82.88,290.00 83.50,290.00 84.75,290.00 84.75,290.88 87.25,290.88 87.25,291.75 88.50,291.75 93.50,291.75 93.50,293.00 94.33,293.00 94.33,293.83 96.00,293.83 96.00,294.67 97.67,294.67 97.67,295.50 98.50,295.50 99.33,295.50 99.33,296.33 101.00,296.33 101.00,297.17 102.67,297.17 102.67,298.00 103.50,298.00 104.75,298.00 104.75,299.00 107.25,299.00 107.25,300.00 108.50,300.00 109.75,300.00 109.75,301.00 112.25,301.00 112.25,302.00 113.50,302.00 118.50,302.00 118.50,303.00 121.00,303.00 121.00,303.00 123.50,303.00 123.50,303.90 149.75,303.90 149.75,303.90" fill="none" stroke="#8f8f8f" stroke-width="1.0"/>
<line x1="120.00" y1="301.60" x2="120.00" y2="303.50" stroke="#707070" stroke-width="0.9"/>
<line x1="124.20" y1="302.50" x2="124.20" y2="304.40" stroke="#707070" stroke-width="0.9"/>
<line x1="128.40" y1="302.50" x2="128.40" y2="304.40" stroke="#707070" stroke-width="0.9"/>
<line x1="132.60" y1="302.50" x2="132.60" y2="304.40" stroke="#707070" stroke-width="0.9"/>
<line x1="136.80" y1="302.50" x2="136.80" y2="304.40" stroke="#707070" stroke-width="0.9"/>
<line x1="141.00" y1="302.50" x2="141.00" y2="304.40" stroke="#707070" stroke-width="0.9"/>
<line x1="145.20" y1="302.50" x2="145.20" y2="304.40" stroke="#707070" stroke-width="0.9"/>
<line x1="149.40" y1="302.50" x2="149.40" y2="304.40" stroke="#707070" stroke-width="0.9"/>
</g>
</svg>
</body></html>
